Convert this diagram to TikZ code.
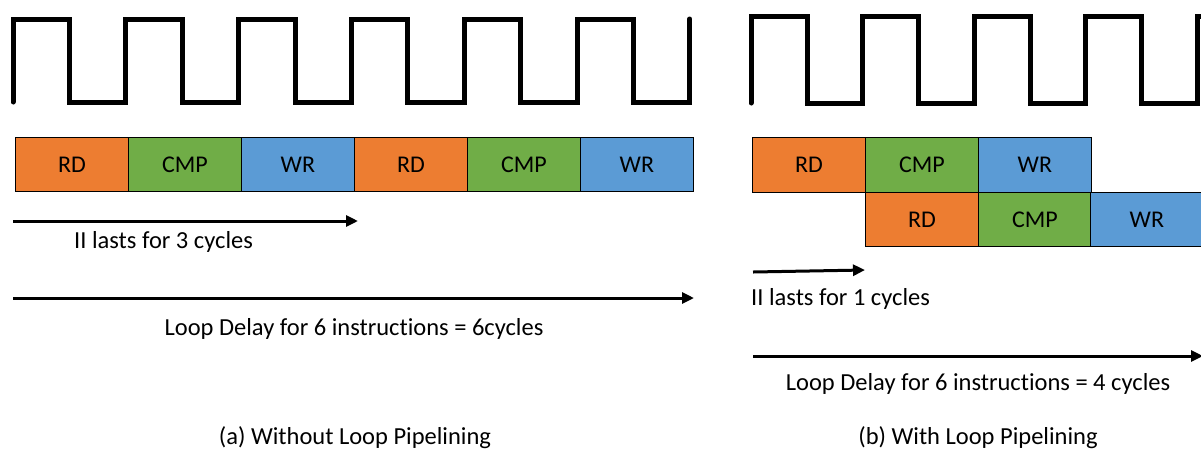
\documentclass[tikz,border=0pt]{standalone}
\usepackage{fontspec}
\setmainfont[Ligatures=NoCommon]{Carlito}
\usetikzlibrary{arrows.meta}
\definecolor{rdc}{HTML}{ED7D31}
\definecolor{cmpc}{HTML}{70AD47}
\definecolor{wrc}{HTML}{5B9BD5}
\begin{document}
\begin{tikzpicture}[x=1pt,y=-1pt,
  clock/.style={line width=5pt,line join=miter,line cap=round},
  stage/.style={draw=black,line width=0.8pt,inner sep=0pt,minimum width=113pt,minimum height=54pt,anchor=north west,font=\fontsize{24}{28}\selectfont},
  rd/.style={stage,fill=rdc},
  cmp/.style={stage,fill=cmpc},
  wr/.style={stage,fill=wrc},
  arr/.style={line width=3pt,-{Triangle[length=12pt,width=11pt]}},
  lbl/.style={inner sep=0pt,font=\fontsize{24.5}{28}\selectfont}]
\useasboundingbox (0,0) rectangle (1201,451);
% left clock
\draw[clock] (13,102) -- (13,19)
  \foreach \i in {0,...,5}{
    -- ({13+112.8*\i+56.4},19) -- ({13+112.8*\i+56.4},102)
    -- ({13+112.8*(\i+1)},102) -- ({13+112.8*(\i+1)},19) };
% right clock
\draw[clock] (751,103) -- (751,16)
  \foreach \i in {0,...,3}{
    -- ({751+111.5*\i+56},16) -- ({751+111.5*\i+56},103)
    -- ({751+111.5*(\i+1)},103) -- ({751+111.5*(\i+1)},16) }
  -- (1203,16);
% left boxes
\node[rd]  (l1) at (15,137)  {RD};
\node[cmp] (l2) at (128,137) {CMP};
\node[wr]  (l3) at (241,137) {WR};
\node[rd]  (l4) at (354,137) {RD};
\node[cmp] (l5) at (467,137) {CMP};
\node[wr]  (l6) at (580,137) {WR};
% right boxes
\node[rd,minimum height=55pt]  (r1) at (752,137) {RD};
\node[cmp,minimum height=55pt] (r2) at (865,137) {CMP};
\node[wr,minimum height=55pt]  (r3) at (978,137) {WR};
\node[rd]  (r4) at (865,192) {RD};
\node[cmp] (r5) at (978,192) {CMP};
\node[wr]  (r6) at (1090,192) {WR};
% left arrows
\coordinate (a1s) at (13,221); \coordinate (a1e) at (358,221);
\draw[arr] (a1s) -- (a1e);
\node[lbl,anchor=west] (t1) at (74,242) {II lasts for 3 cycles};
\coordinate (a2s) at (13,298); \coordinate (a2e) at (694,298);
\draw[arr] (a2s) -- (a2e);
\node[lbl] (t2) at (354,329) {Loop Delay for 6 instructions = 6cycles};
\node[lbl] (c1) at (355,438) {(a) Without Loop Pipelining};
% right arrows
\coordinate (b1s) at (753,272); \coordinate (b1e) at (865,270);
\draw[arr] (b1s) -- (b1e);
\node[lbl,anchor=west] (t3) at (751,299) {II lasts for 1 cycles};
\coordinate (b2s) at (753,356); \coordinate (b2e) at (1203,356);
\draw[arr] (b2s) -- (b2e);
\node[lbl] (t4) at (978,384) {Loop Delay for 6 instructions = 4 cycles};
\node[lbl] (c2) at (978,438) {(b) With Loop Pipelining};
\end{tikzpicture}
\end{document}
